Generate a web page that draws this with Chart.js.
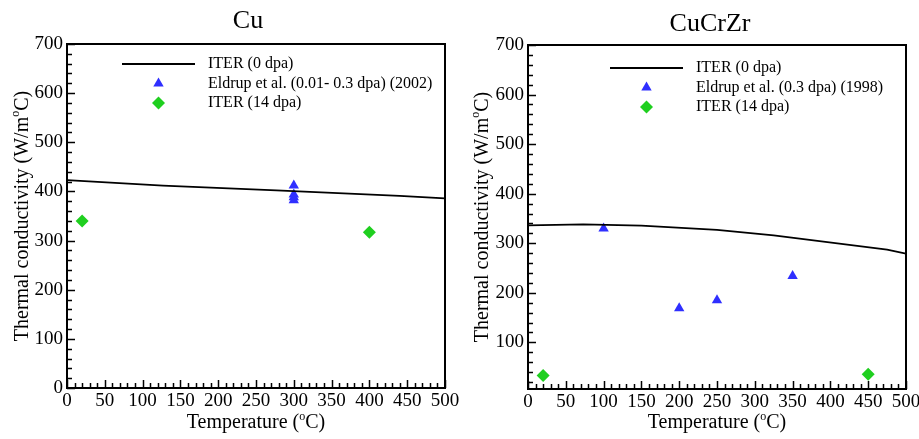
<!DOCTYPE html>
<html><head><meta charset="utf-8">
<script src="https://cdn.jsdelivr.net/npm/chart.js@4.4.1/dist/chart.umd.min.js"></script>
<style>
html,body{margin:0;padding:0;background:#fff;width:919px;height:439px;overflow:hidden}
#wrap{position:relative;width:919px;height:439px;background:#fff}
canvas{position:absolute;top:0}
#c1{left:0}
#c2{left:460px}
</style></head>
<body><div id="wrap"><canvas id="c1" width="460" height="439"></canvas><canvas id="c2" width="459" height="439"></canvas></div>
<script>
// ---- tick labels ----
const xTickLabels = [0, 50, 100, 150, 200, 250, 300, 350, 400, 450, 500];
const yTickLabelsCu = [0, 100, 200, 300, 400, 500, 600, 700];
const yTickLabelsCuCrZr = [100, 200, 300, 400, 500, 600, 700];

// ---- Cu ----
const cuTitle = 'Cu';
const cuLabels = ['ITER (0 dpa)', 'Eldrup et al. (0.01- 0.3 dpa) (2002)', 'ITER (14 dpa)'];
const cuIterT = [0, 127, 277, 440, 500];
const cuIterK = [423, 412, 402, 391, 386];
const cuEldrupT = [300, 300, 300, 300];
const cuEldrupK = [412, 394, 388, 382];
const cuIter14T = [20, 400];
const cuIter14K = [340, 317];

// ---- CuCrZr ----
const cczTitle = 'CuCrZr';
const cczLabels = ['ITER (0 dpa)', 'Eldrup et al. (0.3 dpa) (1998)', 'ITER (14 dpa)'];
const cczIterT = [0, 73, 150, 250, 325, 475, 500];
const cczIterK = [336, 338, 335.5, 327, 316, 287, 279];
const cczEldrupT = [100, 200, 250, 350];
const cczEldrupK = [330, 169, 185, 234];
const cczIter14T = [20, 450];
const cczIter14K = [33, 36];

const SERIF = "'Liberation Serif','Times New Roman',serif";
const BLUE = '#2f2fff';
const GREEN = '#1fcf1f';

function drawRich(ctx, parts, x, y, size) {
  const supSize = Math.round(size * 0.62);
  let total = 0;
  parts.forEach(p => { ctx.font = (p.sup ? supSize : size) + 'px ' + SERIF; p.w = ctx.measureText(p.t).width; total += p.w; });
  let cx = x - total / 2;
  ctx.textAlign = 'left'; ctx.textBaseline = 'alphabetic';
  parts.forEach(p => {
    ctx.font = (p.sup ? supSize : size) + 'px ' + SERIF;
    ctx.fillText(p.t, cx, p.sup ? y - size * 0.42 : y);
    cx += p.w;
  });
}

const deco = {
  id: 'deco',
  afterDraw(chart, args, o) {
    const ctx = chart.ctx, a = chart.chartArea, xs = chart.scales.x, ys = chart.scales.y;
    ctx.save();
    ctx.strokeStyle = '#000'; ctx.fillStyle = '#000';
    // ticks (inward)
    ctx.lineWidth = 1.5;
    ctx.beginPath();
    for (let v = Math.ceil(xs.min / 10) * 10; v <= xs.max; v += 10) {
      const px = Math.round(xs.getPixelForValue(v)) + 0.5;
      const len = (v % 50 === 0) ? 8 : 5;
      ctx.moveTo(px, a.bottom); ctx.lineTo(px, a.bottom - len);
    }
    for (let v = Math.ceil(ys.min / 20) * 20; v <= ys.max; v += 20) {
      const py = Math.round(ys.getPixelForValue(v)) + 0.5;
      const len = (v % 100 === 0) ? 8 : 5;
      ctx.moveTo(a.left, py); ctx.lineTo(a.left + len, py);
    }
    ctx.stroke();
    // frame
    ctx.lineWidth = 2;
    ctx.strokeRect(a.left, a.top, a.right - a.left, a.bottom - a.top);
    // title
    ctx.font = '26px ' + SERIF; ctx.textAlign = 'center'; ctx.textBaseline = 'alphabetic';
    ctx.fillText(o.title, (a.left + a.right) / 2 + o.titleDx, o.titleY);
    // x axis title
    drawRich(ctx, [{t: 'Temperature ('}, {t: 'o', sup: true}, {t: 'C)'}], (a.left + a.right) / 2, 428, 20);
    // y axis title
    ctx.save();
    ctx.translate(27.5, (a.top + a.bottom) / 2);
    ctx.rotate(-Math.PI / 2);
    drawRich(ctx, [{t: 'Thermal conductivity (W/m'}, {t: 'o', sup: true}, {t: 'C)'}], 0, 0, 20);
    ctx.restore();
    // legend
    chart.data.datasets.forEach((ds, i) => {
      const y = a.top + o.legTop + i * 19.5;
      if (ds.showLine) {
        ctx.strokeStyle = ds.borderColor; ctx.lineWidth = ds.borderWidth;
        ctx.beginPath(); ctx.moveTo(a.left + o.legLineX, y); ctx.lineTo(a.left + o.legLineX + 73, y); ctx.stroke();
      } else {
        ctx.fillStyle = ds.backgroundColor; ctx.strokeStyle = ds.borderColor;
        Chart.helpers.drawPoint(ctx, {pointStyle: ds.pointStyle, radius: ds.pointRadius, rotation: 0, borderWidth: 0}, a.left + o.legLineX + 36.5, y);
      }
      ctx.fillStyle = '#000';
      ctx.font = '16px ' + SERIF; ctx.textAlign = 'left'; ctx.textBaseline = 'middle';
      ctx.fillText(ds.label, a.left + o.legTextX, y);
    });
    ctx.restore();
  }
};

function pts(xs, ys) { return xs.map((t, i) => ({x: t, y: ys[i]})); }

function makeChart(id, o) {
  return new Chart(document.getElementById(id), {
    type: 'scatter',
    data: {datasets: [
      {label: o.labels[0], data: pts(o.lineT, o.lineK), showLine: true, borderColor: '#000', borderWidth: 1.8, pointRadius: 0, tension: 0, fill: false},
      {label: o.labels[1], data: pts(o.eT, o.eK), pointStyle: 'triangle', pointRadius: 6, backgroundColor: BLUE, borderColor: BLUE, borderWidth: 0},
      {label: o.labels[2], data: pts(o.dT, o.dK), pointStyle: 'rectRot', pointRadius: 6.5, backgroundColor: GREEN, borderColor: GREEN, borderWidth: 0}
    ]},
    options: {
      responsive: false, animation: false, devicePixelRatio: 1,
      layout: {padding: {top: o.top, right: o.right, bottom: 0, left: 0}},
      plugins: {
        legend: {display: false}, tooltip: {enabled: false}, title: {display: false},
        deco: {title: o.title, titleDx: o.titleDx, titleY: o.titleY, legTop: o.legTop, legLineX: o.legLineX, legTextX: o.legTextX}
      },
      scales: {
        x: {type: 'linear', min: 0, max: 500,
          afterBuildTicks: s => { s.ticks = xTickLabels.map(v => ({value: v})); },
          afterFit: s => { s.height = o.xH; s.paddingLeft = 0; s.paddingRight = 0; },
          grid: {display: false, drawTicks: false}, border: {display: false},
          ticks: {padding: 2, color: '#000', font: {size: 19, family: SERIF}, maxRotation: 0, autoSkip: false}},
        y: {type: 'linear', min: o.yMin, max: 700,
          afterBuildTicks: s => { s.ticks = o.yTicks.map(v => ({value: v})); },
          afterFit: s => { s.width = o.yW; s.paddingTop = 0; s.paddingBottom = 0; },
          grid: {display: false, drawTicks: false}, border: {display: false},
          ticks: {padding: 4, color: '#000', font: {size: 19, family: SERIF}, autoSkip: false}}
      }
    },
    plugins: [deco]
  });
}

makeChart('c1', {labels: cuLabels, title: cuTitle, lineT: cuIterT, lineK: cuIterK, eT: cuEldrupT, eK: cuEldrupK, dT: cuIter14T, dK: cuIter14K,
  yMin: 0, yTicks: yTickLabelsCu, top: 44, right: 15, xH: 51, yW: 67, titleDx: -8, titleY: 28, legTop: 20, legLineX: 55, legTextX: 141});
makeChart('c2', {labels: cczLabels, title: cczTitle, lineT: cczIterT, lineK: cczIterK, eT: cczEldrupT, eK: cczEldrupK, dT: cczIter14T, dK: cczIter14K,
  yMin: 6, yTicks: yTickLabelsCuCrZr, top: 45, right: 13, xH: 50, yW: 68, titleDx: -7, titleY: 31, legTop: 23, legLineX: 82, legTextX: 168});
</script>
</body></html>
